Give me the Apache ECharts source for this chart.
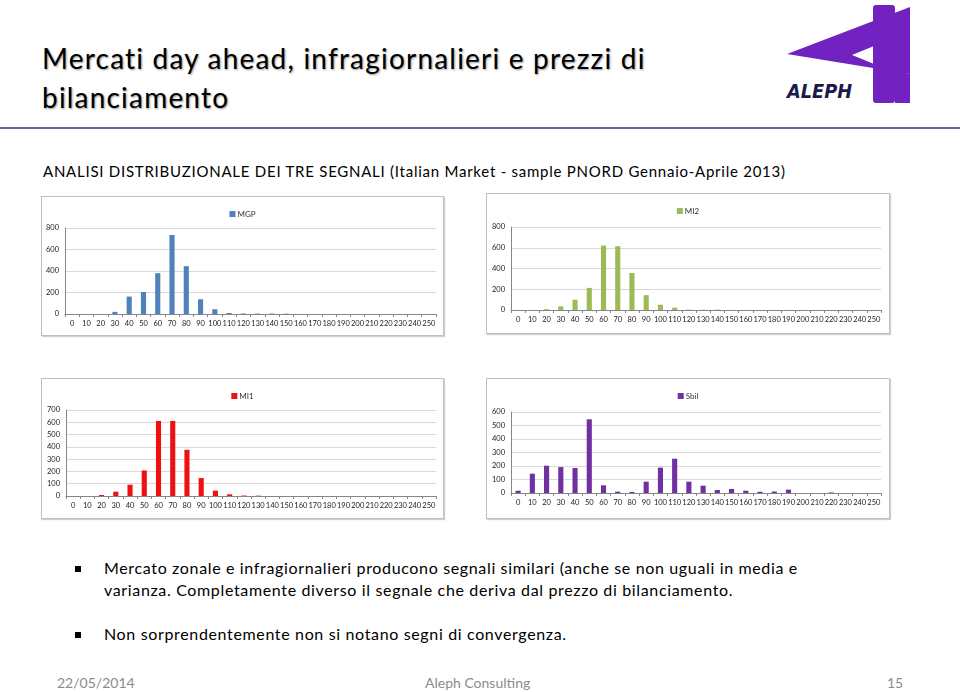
<!DOCTYPE html>
<html>
<head>
<meta charset="utf-8">
<script src="https://cdn.jsdelivr.net/npm/echarts@6/dist/echarts.min.js"></script>
<style>
  body { margin: 0; width: 960px; height: 692px; background: #fff; position: relative; overflow: hidden; font-family: Lato, "Open Sans", sans-serif; }
  .abs { position: absolute; white-space: nowrap; }
  .title { left: 42px; top: 39px; font-size: 28px; letter-spacing: 1.2px; line-height: 39px; color: #000; text-shadow: 1px 1px 2px #999; }
  .rule { left: 0; top: 127px; width: 960px; height: 2px; background: #7a5a9e; }
  .sub { left: 43px; top: 162px; font-size: 15px; letter-spacing: 0.75px; color: #000; }
  .box { position: absolute; border: 1px solid #bfbfbf; box-shadow: 1px 1px 1px #d0d0d0; background: #fff; }
  .bullet { font-size: 16px; letter-spacing: 0.65px; color: #000; }
  .sq { position: absolute; width: 6px; height: 6px; background: #000; }
  .foot { font-size: 14px; color: #8c8c8c; top: 674px; }
</style>
</head>
<body>
<div class="abs title">Mercati day ahead, infragiornalieri e prezzi di<br>bilanciamento</div>
<div class="abs rule"></div>
<svg class="abs" style="left:0;top:0" width="960" height="120">
  <polygon points="787,54 910,7 910,74" fill="#7122c0"/>
  <polygon points="852,55 874,46 874,64" fill="#fff"/>
  <rect x="873" y="5" width="22" height="98" rx="3" fill="#7122c0"/>
  <polygon points="895,70 910,74 910,103 895,103" fill="#7122c0"/>
  <text x="787" y="98" font-family="DejaVu Sans" font-style="italic" font-weight="bold" font-size="19" fill="#1a1a4e" textLength="65" lengthAdjust="spacingAndGlyphs">ALEPH</text>
</svg>
<div class="abs sub">ANALISI DISTRIBUZIONALE DEI TRE SEGNALI (Italian Market - sample PNORD Gennaio-Aprile 2013)</div>

<div id="c1" class="box" style="left:41px;top:196px;width:401px;height:138px"></div>
<div id="c2" class="box" style="left:486px;top:193px;width:402px;height:139px"></div>
<div id="c3" class="box" style="left:41px;top:378px;width:401px;height:139px"></div>
<div id="c4" class="box" style="left:486px;top:378px;width:402px;height:139px"></div>

<div class="sq" style="left:75px;top:566px"></div>
<div class="abs bullet" style="left:104px;top:558px">Mercato zonale e infragiornalieri producono segnali similari (anche se non uguali in media e</div>
<div class="abs bullet" style="left:104px;top:580px">varianza. Completamente diverso il segnale che deriva dal prezzo di bilanciamento.</div>
<div class="sq" style="left:75px;top:632px"></div>
<div class="abs bullet" style="left:104px;top:624px">Non sorprendentemente non si notano segni di convergenza.</div>

<div class="abs foot" style="left:57px">22/05/2014</div>
<div class="abs foot" style="left:425px">Aleph Consulting</div>
<div class="abs foot" style="left:887px">15</div>

<script>
// price classes (EUR/MWh)
var categories = ['0','10','20','30','40','50','60','70','80','90','100','110','120','130','140','150','160','170','180','190','200','210','220','230','240','250'];

var mgpValues  = [0, 0, 0, 20, 162, 205, 380, 735, 445, 137, 44, 10, 5, 4, 4, 3, 0, 0, 0, 0, 0, 0, 0, 0, 0, 0];
var mi2Values  = [0, 0, 8, 35, 99, 213, 621, 615, 357, 143, 51, 22, 4, 3, 4, 0, 0, 0, 0, 0, 0, 0, 0, 0, 0, 0];
var mi1Values  = [0, 0, 8, 35, 92, 208, 611, 611, 376, 146, 43, 14, 4, 3, 0, 0, 0, 0, 0, 0, 0, 0, 0, 0, 0, 0];
var sbilValues = [17, 143, 202, 192, 185, 546, 57, 10, 8, 84, 188, 254, 84, 54, 22, 30, 17, 9, 11, 25, 0, 0, 4, 0, 0, 0];

function makeChart(id, name, color, values, max, interval, grid) {
  var chart = echarts.init(document.getElementById(id));
  chart.setOption({
    animation: false,
    textStyle: { fontFamily: 'Liberation Sans Narrow, Lato, sans-serif' },
    legend: {
      data: [name],
      top: 8,
      left: 'center',
      itemWidth: 6,
      itemHeight: 6,
      itemGap: 2,
      icon: 'rect',
      textStyle: { fontSize: 8, color: '#333', padding: [0, 0, 0, -3] }
    },
    grid: grid,
    xAxis: {
      type: 'category',
      data: categories,
      axisLine: { lineStyle: { color: '#868686', width: 1 } },
      axisTick: { show: true, length: 3, alignWithLabel: false, lineStyle: { color: '#868686' } },
      axisLabel: { fontSize: 7.5, color: '#222', margin: 6, interval: 0 }
    },
    yAxis: {
      type: 'value',
      min: 0,
      max: max,
      interval: interval,
      axisLine: { show: true, lineStyle: { color: '#868686', width: 1 } },
      axisTick: { show: false },
      axisLabel: { fontSize: 7.5, color: '#222', margin: 6 },
      splitLine: { lineStyle: { color: '#d9d9d9', width: 1 } }
    },
    series: [{
      name: name,
      type: 'bar',
      data: values,
      barWidth: '36%',
      itemStyle: { color: color }
    }]
  });
}

makeChart('c1', 'MGP', '#4f81bd', mgpValues, 800, 200, { left: 23, right: 7, top: 31, bottom: 21 });
makeChart('c2', 'MI2', '#9bbb59', mi2Values, 800, 200, { left: 24, right: 8, top: 33, bottom: 23 });
makeChart('c3', 'MI1', '#ee1111', mi1Values, 700, 100, { left: 24, right: 7, top: 31, bottom: 22 });
makeChart('c4', 'Sbil', '#7030a0', sbilValues, 600, 100, { left: 24, right: 8, top: 33, bottom: 25 });
</script>
</body>
</html>
